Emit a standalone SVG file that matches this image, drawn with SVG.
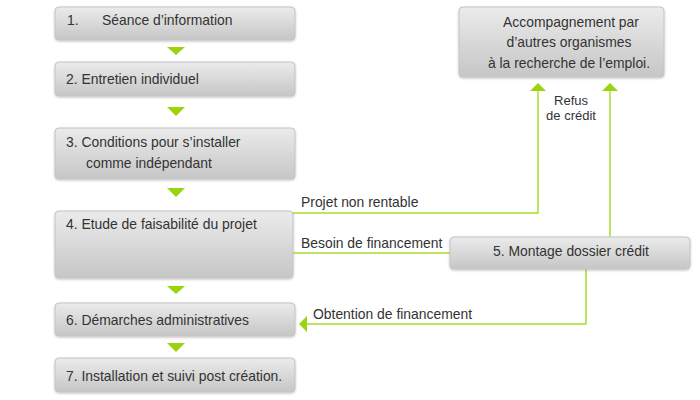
<svg xmlns="http://www.w3.org/2000/svg" width="700" height="400" viewBox="0 0 700 400">
<defs>
<linearGradient id="g" x1="0" y1="0" x2="0" y2="1">
<stop offset="0" stop-color="#ebebeb"/>
<stop offset="1" stop-color="#c6c6c6"/>
</linearGradient>
<filter id="sh" x="-5%" y="-10%" width="110%" height="130%">
<feDropShadow dx="0" dy="1" stdDeviation="0.8" flood-color="#000" flood-opacity="0.25"/>
</filter>
</defs>
<style>
.box{fill:url(#g);stroke:#c4c4c4;stroke-width:1;filter:url(#sh)}
text{font-family:"Liberation Sans",Arial,sans-serif;font-size:13.9px;fill:#333}
.c{text-anchor:middle}
.sm{font-size:13px}
.ln{fill:none;stroke:#a8dd2c;stroke-width:1.5}
.tri{fill:#9ad40f}
</style>
<rect width="700" height="400" fill="#fff"/>
<g id="connectors">
<polygon class="tri" points="167,47 185,47 176,55"/>
<polygon class="tri" points="167,107 185,107 176,116"/>
<polygon class="tri" points="167,188 185,188 176,197"/>
<polygon class="tri" points="167,286 185,286 176,294"/>
<polygon class="tri" points="167,343 185,343 176,352"/>
<polyline class="ln" points="293,213 538,213 538,90"/>
<polygon class="tri" points="530,91 546,91 538,83"/>
<polyline class="ln" points="610,237 610,90"/>
<polygon class="tri" points="602,91 618,91 610,83"/>
<line class="ln" x1="293" y1="253" x2="450" y2="253"/>
<polyline class="ln" points="586,269 586,324 306,324"/>
<polygon class="tri" points="307,316 307,332 299,324"/>
<text x="301" y="207">Projet non rentable</text>
<text x="301" y="248">Besoin de financement</text>
<text x="313" y="319">Obtention de financement</text>
<text class="c sm" x="571" y="105">Refus</text>
<text class="c sm" x="571" y="120">de crédit</text>
</g>
<g id="n1"><rect class="box" x="55" y="7" width="240" height="33" rx="4"/><text x="67" y="25">1.</text><text x="102" y="25">Séance d’information</text></g>
<g id="n2"><rect class="box" x="55" y="62" width="240" height="34" rx="4"/><text x="66" y="84">2.  Entretien individuel</text></g>
<g id="n3"><rect class="box" x="55" y="128" width="240" height="51" rx="4"/><text x="66" y="147">3. Conditions pour s’installer</text><text x="86" y="168">comme indépendant</text></g>
<g id="n4"><rect class="box" x="55" y="211" width="238" height="67" rx="4"/><text x="66" y="229">4. Etude de faisabilité du projet</text></g>
<g id="n5"><rect class="box" x="450" y="237" width="240" height="32" rx="4"/><text class="c" x="571" y="256">5. Montage dossier crédit</text></g>
<g id="n6"><rect class="box" x="55" y="303" width="240" height="33" rx="4"/><text x="66" y="325">6. Démarches administratives</text></g>
<g id="n7"><rect class="box" x="55" y="358" width="240" height="34" rx="4"/><text x="66" y="381">7. Installation et suivi post création.</text></g>
<g id="n8"><rect class="box" x="459" y="7" width="205" height="70" rx="4"/><text class="c" x="571" y="27">Accompagnement par</text><text class="c" x="569" y="47">d’autres organismes</text><text class="c" x="569" y="68">à la recherche de l’emploi.</text></g>
</svg>
